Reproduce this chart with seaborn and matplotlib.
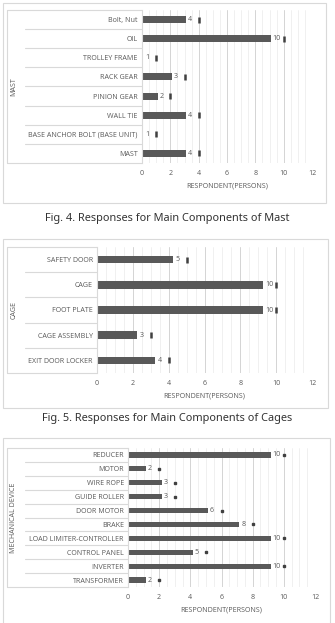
import numpy as np
import pandas as pd
import matplotlib
matplotlib.use("Agg")
import matplotlib.pyplot as plt
import matplotlib.transforms as mtransforms
from matplotlib.patches import Rectangle
from matplotlib.lines import Line2D
import seaborn as sns

# ---- data ----
mast_parts = ["Bolt, Nut", "OIL", "TROLLEY FRAME", "RACK GEAR", "PINION GEAR",
              "WALL TIE", "BASE ANCHOR BOLT (BASE UNIT)", "MAST"]
mast_counts = [4, 10, 1, 3, 2, 4, 1, 4]

cage_parts = ["SAFETY DOOR", "CAGE", "FOOT PLATE", "CAGE ASSEMBLY", "EXIT DOOR LOCKER"]
cage_counts = [5, 10, 10, 3, 4]

mech_parts = ["REDUCER", "MOTOR", "WIRE ROPE", "GUIDE ROLLER", "DOOR MOTOR", "BRAKE",
              "LOAD LIMITER-CONTROLLER", "CONTROL PANEL", "INVERTER", "TRANSFORMER"]
mech_counts = [10, 2, 3, 3, 6, 8, 10, 5, 10, 2]

x_ticks = [0, 2, 4, 6, 8, 10, 12]
x_title = "RESPONDENT(PERSONS)"

W, H = 335, 623
GREY = "#595959"
LINE = "#d9d9d9"
FS = 5.1

sns.set_theme(style="white")
plt.rcParams['font.family'] = ['Open Sans', 'DejaVu Sans']

fig = plt.figure(figsize=(W / 100, H / 100), dpi=100)


def fx(px):
    return px / W


def fy(py):
    return 1 - py / H


def panel(box, plot, cats, counts, group, gap, bar_w, mark):
    # box: (x0, y0, x1, y1) px of the framed chart area
    # plot: (x_at_0, x_at_12, y_top, y_bottom) px of the plotting area
    bx0, by0, bx1, by1 = box
    fig.patches.append(Rectangle((fx(bx0), fy(by1)), fx(bx1 - bx0), (by1 - by0) / H,
                                 transform=fig.transFigure, fill=False,
                                 edgecolor=LINE, lw=0.8))
    px0, px1, pt, pb = plot
    ax = fig.add_axes([fx(px0), fy(pb), fx(px1 - px0), (pb - pt) / H])

    df = pd.DataFrame({"part": cats, "count": counts})
    df["shown"] = df["count"] - gap
    sns.barplot(data=df, y="part", x="shown", orient="h", color=GREY,
                width=bar_w, saturation=1, linewidth=0, ax=ax)
    n = len(cats)
    idx = np.arange(n)
    if mark == "bar":
        ax.plot(df["count"], idx, ls="none", marker="|", ms=5, mew=1.8, color="#404040")
    else:
        ax.plot(df["count"], idx, ls="none", marker="s", ms=1.7, color="#404040")
    for i, (s, c) in enumerate(zip(df["shown"], df["count"])):
        ax.text(s + 0.12, i, str(c), ha="left", va="center", fontsize=FS, color=GREY)

    ax.set_xlim(0, 12)
    ax.set_ylim(n - 0.5, -0.5)
    ax.set_xticks(x_ticks)
    ax.set_xticks(np.arange(0, 12.01, 0.5), minor=True)
    ax.grid(axis="x", which="major", color="#d4d4d4", lw=0.7)
    ax.grid(axis="x", which="minor", color="#eeeeee", lw=0.6)
    ax.set_axisbelow(True)
    for s in ["top", "right", "bottom"]:
        ax.spines[s].set_visible(False)
    ax.spines["left"].set_color(LINE)
    ax.spines["left"].set_linewidth(0.8)
    ax.tick_params(axis="both", which="both", length=0, colors=GREY, labelsize=FS)
    ax.tick_params(axis="x", pad=5)
    ax.tick_params(axis="y", pad=3)
    ax.set_ylabel("")
    ax.set_xlabel(x_title, fontsize=FS, color=GREY, labelpad=4)

    # category table lines left of the axis
    tr = mtransforms.blended_transform_factory(fig.transFigure, ax.transData)
    for i in range(1, n):
        ax.add_line(Line2D([fx(25), fx(px0)], [i - 0.5, i - 0.5], transform=tr,
                           color=LINE, lw=0.8, clip_on=False))
    for yv in [-0.5, n - 0.5]:
        ax.add_line(Line2D([fx(7), fx(px0)], [yv, yv], transform=tr,
                           color=LINE, lw=0.8, clip_on=False))
    ax.add_line(Line2D([fx(7), fx(7)], [-0.5, n - 0.5], transform=tr,
                       color=LINE, lw=0.8, clip_on=False))
    fig.text(fx(14), fy((pt + pb) / 2), group, rotation=90, ha="center", va="center",
             fontsize=FS, color=GREY)
    return ax


panel((3, 3, 326, 203), (142, 312, 10, 163), mast_parts, mast_counts, "MAST", 0.9, 0.36, "bar")
fig.text(0.5, fy(218), "Fig. 4. Responses for Main Components of Mast", ha="center",
         va="center", fontsize=7.9, color="#333333", family=["Noto Sans", "DejaVu Sans"])

panel((3, 239, 328, 408), (97, 312, 247, 373), cage_parts, cage_counts, "CAGE", 0.75, 0.3, "bar")
fig.text(0.5, fy(419), "Fig. 5. Responses for Main Components of Cages", ha="center",
         va="center", fontsize=7.9, color="#333333", family=["Noto Sans", "DejaVu Sans"])

panel((3, 438, 330, 640), (128, 315, 448, 587), mech_parts, mech_counts, "MECHANICAL DEVICE",
      0.85, 0.38, "dot")

fig.savefig("out.png", dpi=100)
